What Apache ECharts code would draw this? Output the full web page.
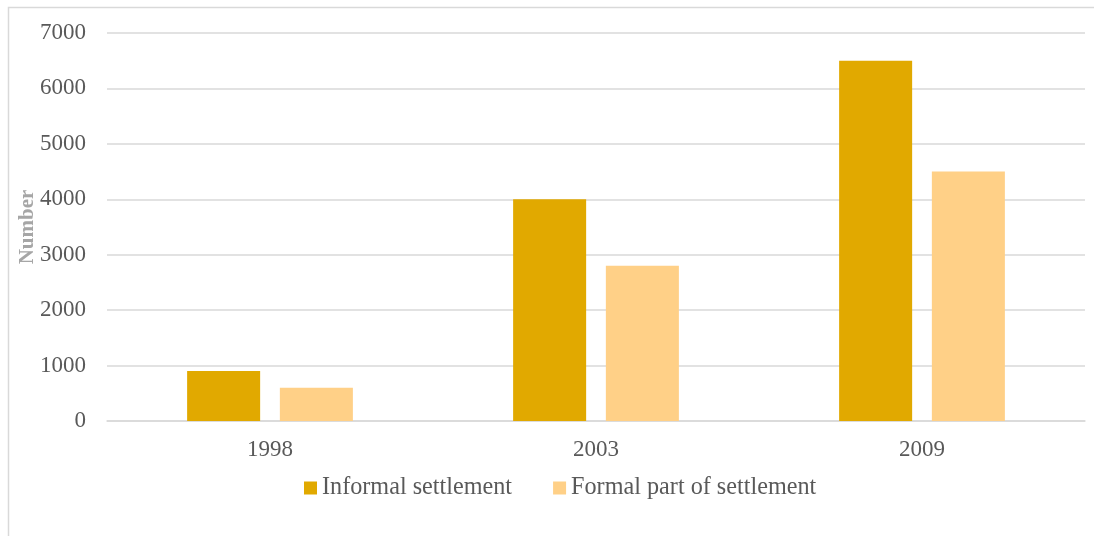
<!DOCTYPE html>
<html>
<head>
<meta charset="utf-8">
<script src="https://cdn.jsdelivr.net/npm/echarts@6/dist/echarts.min.js"></script>
<style>
  html, body { margin: 0; padding: 0; background: #fff; }
  #chart { width: 1094px; height: 536px; }
</style>
</head>
<body>
<div id="chart"></div>
<script>
// Settlement counts by survey year
const years = ['1998', '2003', '2009'];
const informalSettlement = [900, 4000, 6500];
const formalPartOfSettlement = [600, 2800, 4500];
const seriesNames = ['Informal settlement', 'Formal part of settlement'];
const yTicks = { min: 0, max: 7000, interval: 1000 };

const chart = echarts.init(document.getElementById('chart'));
const serif = '"Liberation Serif", "Times New Roman", serif';

chart.setOption({
  animation: false,
  color: ['#E1A900', '#FFD087'],
  graphic: [{
    type: 'rect',
    shape: { x: 8.5, y: 7.5, width: 1200, height: 600 },
    style: { fill: 'none', stroke: '#d9d9d9', lineWidth: 1.5 },
    silent: true
  }],
  grid: { left: 107, right: 9, top: 33, bottom: 115 },
  legend: {
    top: 471,
    left: 299,
    itemWidth: 13,
    itemHeight: 13,
    itemGap: 41,
    itemStyle: { borderWidth: 0 },
    icon: 'rect',
    textStyle: { fontFamily: serif, fontSize: 24.2, color: '#595959' },
    data: seriesNames
  },
  xAxis: {
    type: 'category',
    data: years,
    axisLine: { lineStyle: { color: '#d9d9d9', width: 1.5 } },
    axisTick: { show: false },
    axisLabel: { fontFamily: serif, fontSize: 23, color: '#595959', margin: 17 }
  },
  yAxis: {
    type: 'value',
    min: yTicks.min,
    max: yTicks.max,
    interval: yTicks.interval,
    name: 'Number',
    nameLocation: 'middle',
    nameGap: 69,
    nameMoveOverlap: false,
    nameTextStyle: { fontFamily: serif, fontSize: 21, fontWeight: 'bold', color: '#a6a6a6' },
    axisLine: { show: false },
    axisTick: { show: false },
    splitLine: { lineStyle: { color: '#d9d9d9', width: 1.5 } },
    axisLabel: {
      fontFamily: serif, fontSize: 23, color: '#595959', margin: 21,
      formatter: v => String(v)
    }
  },
  series: [
    {
      name: seriesNames[0],
      type: 'bar',
      data: informalSettlement,
      barWidth: '22.4%',
      barGap: '27%'
    },
    {
      name: seriesNames[1],
      type: 'bar',
      data: formalPartOfSettlement,
      barWidth: '22.4%',
      barGap: '27%'
    }
  ]
});
</script>
</body>
</html>
